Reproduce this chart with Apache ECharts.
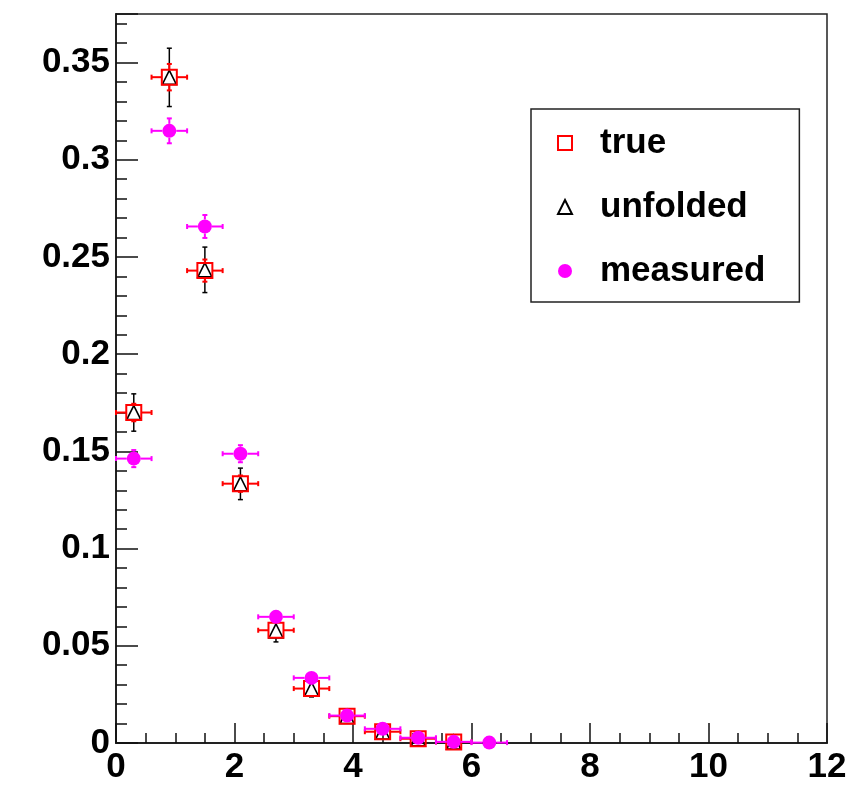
<!DOCTYPE html>
<html>
<head>
<meta charset="utf-8">
<script src="https://cdn.jsdelivr.net/npm/echarts@6/dist/echarts.min.js"></script>
<style>
  html, body { margin: 0; padding: 0; background: #fff; }
  #chart { width: 858px; height: 785px; }
</style>
</head>
<body>
<div id="chart"></div>
<script>
// Bin centres (bin width 0.6) and per-bin contents with their errors
const binCenters = [0.3, 0.9, 1.5, 2.1, 2.7, 3.3, 3.9, 4.5, 5.1, 5.7, 6.3];
const binHalfWidth = 0.3;

const trueValues = [0.170, 0.3425, 0.243, 0.1334, 0.058, 0.028, 0.0138, 0.0058, 0.0022, 0.0005];
const trueErrors = [0.0045, 0.0068, 0.0057, 0.0042, 0.0028, 0.0019, 0.0014, 0.0009, 0.0005, 0.0003];

const unfoldedValues = [0.170, 0.3424, 0.2434, 0.1333, 0.0577, 0.0277, 0.0136, 0.0056, 0.0021, 0.0005];
const unfoldedErrors = [0.0096, 0.015, 0.0117, 0.0081, 0.0057, 0.004, 0.0025, 0.0016, 0.001, 0.0005];

const measuredValues = [0.1463, 0.3149, 0.2657, 0.1488, 0.0649, 0.0335, 0.0141, 0.0073, 0.0027, 0.0006, 0.0002];
const measuredErrors = [0.0044, 0.0064, 0.0059, 0.0044, 0.0029, 0.0021, 0.0014, 0.001, 0.0006, 0.0003, 0.0002];

const seriesNames = ['true', 'unfolded', 'measured'];
const xTickLabels = ['0', '2', '4', '6', '8', '10', '12'];
const yTickLabels = ['0', '0.05', '0.1', '0.15', '0.2', '0.25', '0.3', '0.35'];

const FONT = 'Liberation Sans, Arial, Helvetica, sans-serif';

function rows(values, errors, withX) {
  return values.map((v, i) => [binCenters[i], v, errors[i], withX ? binHalfWidth : 0]);
}

// Error bars with end caps, leaving a gap around the marker
function errorBars(color, width, gap, cap) {
  return function (params, api) {
    const x = api.value(0), y = api.value(1), ey = api.value(2), ex = api.value(3);
    const c = api.coord([x, y]);
    const style = { stroke: color, lineWidth: width };
    const children = [];
    const seg = (x1, y1, x2, y2) => children.push({ type: 'line', shape: { x1, y1, x2, y2 }, style });
    if (ex > 0) {
      const l = api.coord([x - ex, y])[0];
      const r = api.coord([x + ex, y])[0];
      if (c[0] - l > gap) {
        seg(l, c[1], c[0] - gap, c[1]);
        seg(r, c[1], c[0] + gap, c[1]);
        seg(l, c[1] - cap, l, c[1] + cap);
        seg(r, c[1] - cap, r, c[1] + cap);
      }
    }
    if (ey > 0) {
      const t = api.coord([x, y + ey])[1];
      const b = api.coord([x, y - ey])[1];
      if (c[1] - t > gap) {
        seg(c[0], t, c[0], c[1] - gap);
        seg(c[0], b, c[0], c[1] + gap);
        seg(c[0] - cap, t, c[0] + cap, t);
        seg(c[0] - cap, b, c[0] + cap, b);
      }
    }
    return { type: 'group', children };
  };
}

const chart = echarts.init(document.getElementById('chart'), null, { renderer: 'canvas' });

const labelStyle = { color: '#000', fontFamily: FONT, fontWeight: 'bold', fontSize: 35 };

chart.setOption({
  animation: false,
  backgroundColor: '#fff',
  grid: {
    left: 116, right: 31, top: 14, bottom: 42,
    show: true, borderColor: '#222', borderWidth: 1.5, backgroundColor: 'transparent'
  },
  xAxis: [{
    type: 'value', min: 0, max: 12, interval: 2,
    axisLine: { show: true, onZero: false, lineStyle: { color: '#222', width: 2 } },
    axisTick: { show: true, inside: true, length: 20, lineStyle: { color: '#111', width: 1.5 } },
    minorTick: { show: true, splitNumber: 4, length: 10, lineStyle: { color: '#111', width: 1.5 } },
    splitLine: { show: false },
    axisLabel: Object.assign({}, labelStyle, {
      margin: 7,
      formatter: v => {
        const i = Math.round(v / 2);
        return Math.abs(v - i * 2) < 1e-9 ? xTickLabels[i] : '';
      }
    })
  }],
  yAxis: [{
    // fine ticks every 0.01
    type: 'value', min: 0, max: 0.375, interval: 0.01, position: 'left', offset: 0,
    axisLine: { show: true, onZero: false, lineStyle: { color: '#222', width: 2 } },
    axisTick: { show: true, inside: true, length: 11, lineStyle: { color: '#111', width: 1.5 } },
    splitLine: { show: false },
    axisLabel: { show: false }
  }, {
    // major ticks and labels every 0.05
    type: 'value', min: 0, max: 0.375, interval: 0.05, position: 'left', offset: 0,
    axisLine: { show: false },
    axisTick: { show: true, inside: true, length: 22, lineStyle: { color: '#111', width: 1.5 } },
    splitLine: { show: false },
    axisLabel: Object.assign({}, labelStyle, {
      margin: 6,
      formatter: v => {
        const i = Math.round(v / 0.05);
        return Math.abs(v - i * 0.05) < 1e-9 && i < yTickLabels.length ? yTickLabels[i] : '';
      }
    })
  }],
  legend: {
    orient: 'vertical',
    left: 531, top: 109,
    data: seriesNames,
    selectedMode: false,
    itemWidth: 14, itemHeight: 14,
    itemGap: 29,
    padding: [16.5, 34, 13.5, 26],
    borderColor: '#222', borderWidth: 1.5,
    backgroundColor: '#fff',
    textStyle: {
      color: '#000', fontFamily: FONT, fontWeight: 'bold', fontSize: 35,
      lineHeight: 35, padding: [0, 0, 0, 23]
    }
  },
  series: [
    {
      name: 'unfolded-errors', type: 'custom', z: 2,
      xAxisIndex: 0, yAxisIndex: 0,
      renderItem: errorBars('#000', 1.5, 7, 2.5),
      data: rows(unfoldedValues, unfoldedErrors, false)
    },
    {
      name: 'unfolded', type: 'scatter', z: 3,
      xAxisIndex: 0, yAxisIndex: 0,
      symbol: 'triangle', symbolSize: [14, 14],
      itemStyle: { color: 'rgba(255,255,255,0)', borderColor: '#000', borderWidth: 1.6, opacity: 1 },
      data: unfoldedValues.map((v, i) => [binCenters[i], v])
    },
    {
      name: 'true-errors', type: 'custom', z: 4,
      xAxisIndex: 0, yAxisIndex: 0,
      renderItem: errorBars('#ff0000', 2, 7.5, 2.5),
      data: rows(trueValues, trueErrors, true)
    },
    {
      name: 'true', type: 'scatter', z: 5,
      xAxisIndex: 0, yAxisIndex: 0,
      symbol: 'rect', symbolSize: 15,
      itemStyle: { color: 'rgba(255,255,255,0)', borderColor: '#ff0000', borderWidth: 2, opacity: 1 },
      data: trueValues.map((v, i) => [binCenters[i], v])
    },
    {
      name: 'measured-errors', type: 'custom', z: 6,
      xAxisIndex: 0, yAxisIndex: 0,
      renderItem: errorBars('#ff00ff', 2, 7, 2.5),
      data: rows(measuredValues, measuredErrors, true)
    },
    {
      name: 'measured', type: 'scatter', z: 7,
      xAxisIndex: 0, yAxisIndex: 0,
      symbol: 'circle', symbolSize: 14,
      itemStyle: { color: '#ff00ff', opacity: 1 },
      data: measuredValues.map((v, i) => [binCenters[i], v])
    }
  ]
});
</script>
</body>
</html>
